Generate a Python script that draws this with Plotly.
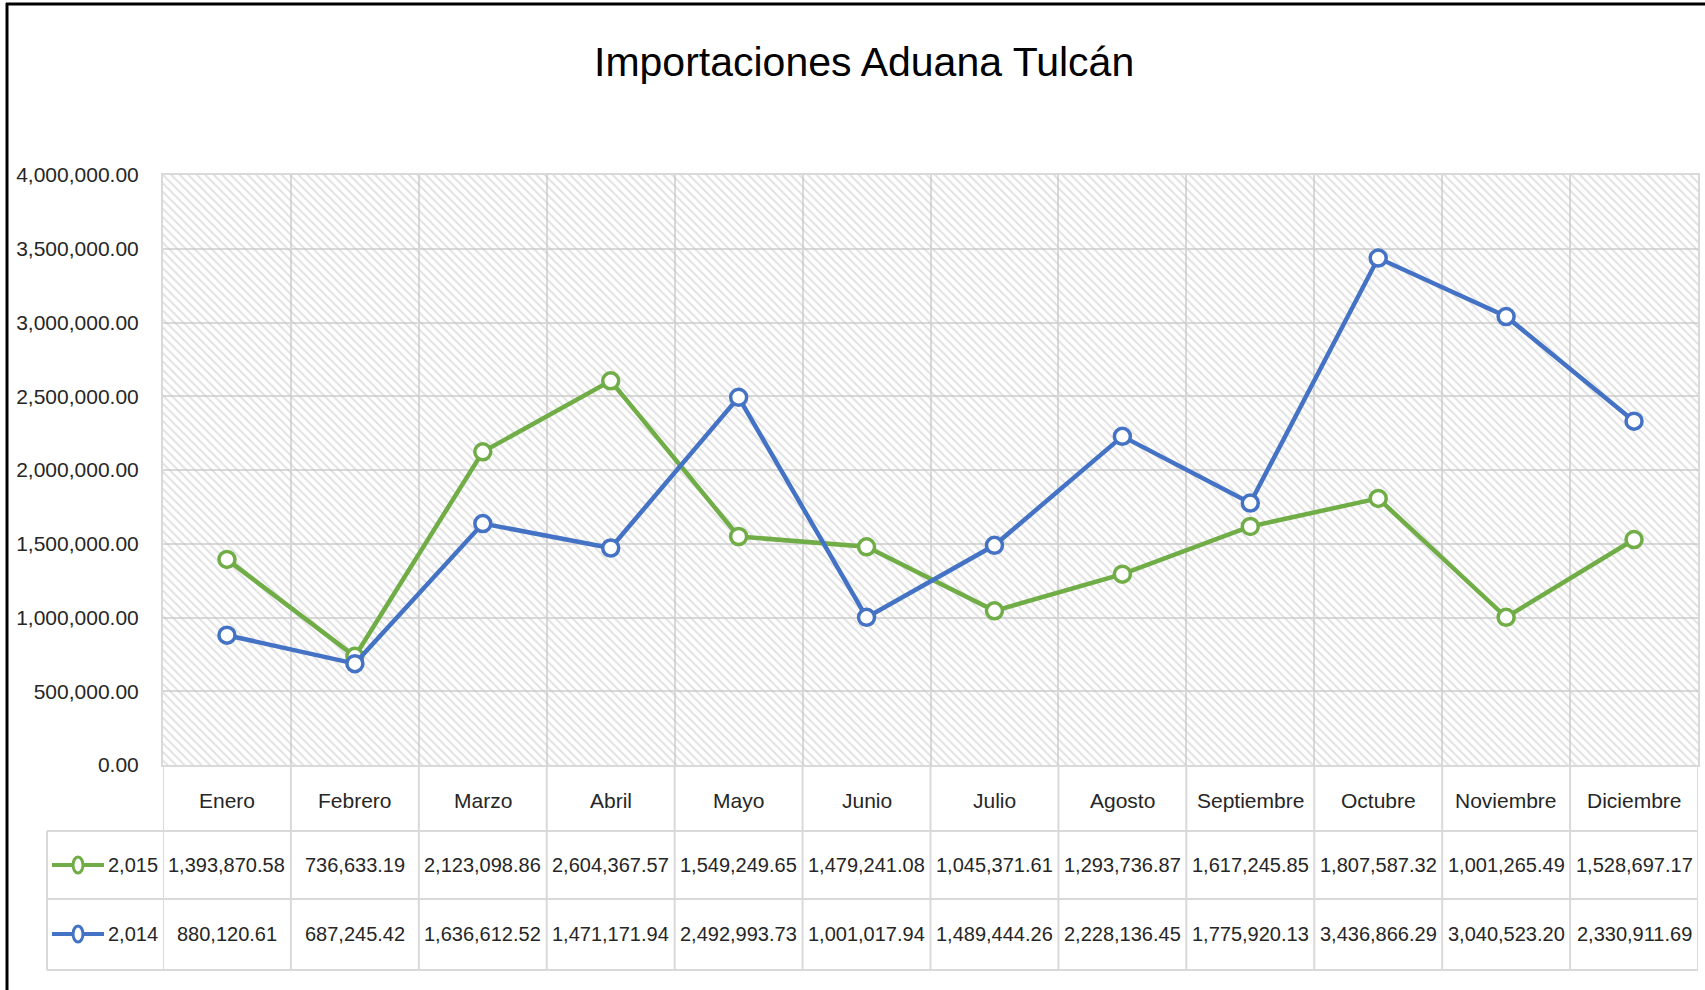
import plotly.graph_objects as go

# ---------------- data ----------------
months = ["Enero", "Febrero", "Marzo", "Abril", "Mayo", "Junio", "Julio",
          "Agosto", "Septiembre", "Octubre", "Noviembre", "Diciembre"]
series_2015_name = "2,015"
series_2015 = [1393870.58, 736633.19, 2123098.86, 2604367.57, 1549249.65, 1479241.08,
               1045371.61, 1293736.87, 1617245.85, 1807587.32, 1001265.49, 1528697.17]
series_2014_name = "2,014"
series_2014 = [880120.61, 687245.42, 1636612.52, 1471171.94, 2492993.73, 1001017.94,
               1489444.26, 2228136.45, 1775920.13, 3436866.29, 3040523.20, 2330911.69]
y_max = 4000000
y_step = 500000
title_text = "Importaciones Aduana Tulcán"

# ---------------- style ----------------
W, H = 1705, 990
L, R, T, B = 163, 1698, 175, 765
GREEN = "#70AD47"
BLUE = "#4472C4"
GRID = "#D9D9D9"
FONT = "Liberation Sans Narrow, Arial Narrow, Liberation Sans, Arial, sans-serif"
TXT = "#262626"


def xp(px):
    return (px - L) / (R - L)


def yp(py):
    return (B - py) / (B - T)


fig = go.Figure()

# hatched plot-area background (one bar per category spanning the axis range)
fig.add_trace(go.Bar(
    x=months, y=[y_max] * len(months), width=1,
    marker=dict(color="rgba(0,0,0,0)", line=dict(width=0),
                pattern=dict(shape="\\", fgcolor="#C4C4C4", size=6, solidity=0.33)),
    hoverinfo="skip", showlegend=False,
))

for name, vals, col in [(series_2015_name, series_2015, GREEN),
                        (series_2014_name, series_2014, BLUE)]:
    fig.add_trace(go.Scatter(
        x=months, y=vals, name=name, mode="lines+markers",
        line=dict(color=col, width=4.5),
        marker=dict(symbol="circle", size=16, color="white", line=dict(color=col, width=3.5)),
        showlegend=False,
    ))

shapes = []
annotations = []

# outer frame (left and top black border)
shapes.append(dict(type="line", xref="paper", yref="paper",
                   x0=xp(7), x1=xp(7), y0=yp(3), y1=yp(H + 5),
                   line=dict(color="black", width=3)))
shapes.append(dict(type="line", xref="paper", yref="paper",
                   x0=xp(6), x1=xp(W + 5), y0=yp(4), y1=yp(4),
                   line=dict(color="black", width=3)))

# data table grid
rows_y = [B, 831, 899, 970]
for i in range(len(months) + 1):
    shapes.append(dict(type="line", xref="x", yref="paper",
                       x0=i - 0.5, x1=i - 0.5, y0=yp(B), y1=yp(970),
                       line=dict(color=GRID, width=2)))
shapes.append(dict(type="line", xref="paper", yref="paper",
                   x0=xp(47), x1=xp(47), y0=yp(831), y1=yp(970),
                   line=dict(color=GRID, width=2)))
for py in rows_y[1:]:
    shapes.append(dict(type="line", xref="paper", yref="paper",
                       x0=xp(47), x1=xp(R), y0=yp(py), y1=yp(py),
                       line=dict(color=GRID, width=2)))

# header labels
for i, m in enumerate(months):
    annotations.append(dict(x=i, xref="x", y=yp(800), yref="paper", text=m,
                            showarrow=False, xanchor="center", yanchor="middle",
                            font=dict(family=FONT, size=21, color=TXT)))

# value rows with legend keys
for name, vals, col, cy in [(series_2015_name, series_2015, GREEN, 865),
                            (series_2014_name, series_2014, BLUE, 934)]:
    for i, v in enumerate(vals):
        annotations.append(dict(x=i, xref="x", y=yp(cy), yref="paper", text=f"{v:,.2f}",
                                showarrow=False, xanchor="center", yanchor="middle",
                                font=dict(family=FONT, size=20, color=TXT)))
    annotations.append(dict(x=xp(160), xref="paper", y=yp(cy), yref="paper", text=name,
                            showarrow=False, xanchor="right", yanchor="middle",
                            font=dict(family=FONT, size=20, color=TXT)))
    shapes.append(dict(type="line", xref="paper", yref="paper",
                       x0=xp(52), x1=xp(104), y0=yp(cy), y1=yp(cy),
                       line=dict(color=col, width=4)))
    shapes.append(dict(type="circle", xref="paper", yref="paper",
                       x0=xp(73), x1=xp(83), y0=yp(cy - 8), y1=yp(cy + 8),
                       fillcolor="white", line=dict(color=col, width=3)))

# title
annotations.append(dict(x=xp(864), xref="paper", y=yp(62), yref="paper", text=title_text,
                        showarrow=False, xanchor="center", yanchor="middle",
                        font=dict(family=FONT, size=41, color="black")))

fig.update_layout(
    width=W, height=H,
    margin=dict(l=L, r=W - R, t=T, b=H - B, pad=0, autoexpand=False),
    paper_bgcolor="white", plot_bgcolor="white",
    barmode="overlay", bargap=0,
    shapes=shapes, annotations=annotations,
    xaxis=dict(type="category", range=[-0.5, len(months) - 0.5], automargin=False,
               tickson="boundaries", showgrid=True, gridcolor=GRID, gridwidth=2,
               showticklabels=False, ticks="", showline=True, linecolor=GRID,
               linewidth=2, mirror=True, zeroline=False, fixedrange=True),
    yaxis=dict(range=[0, y_max], dtick=y_step, tick0=0, tickformat=",.2f", automargin=False,
               showgrid=True, gridcolor=GRID, gridwidth=2, zeroline=False,
               showline=True, linecolor=GRID, linewidth=2, mirror=True,
               ticks="", ticklabelstandoff=18,
               tickfont=dict(family=FONT, size=21, color=TXT), fixedrange=True),
    hovermode=False,
)

fig.write_html("out.html", config={"displayModeBar": False},
               post_script="document.body.style.margin='0px';document.body.style.overflow='hidden';")
